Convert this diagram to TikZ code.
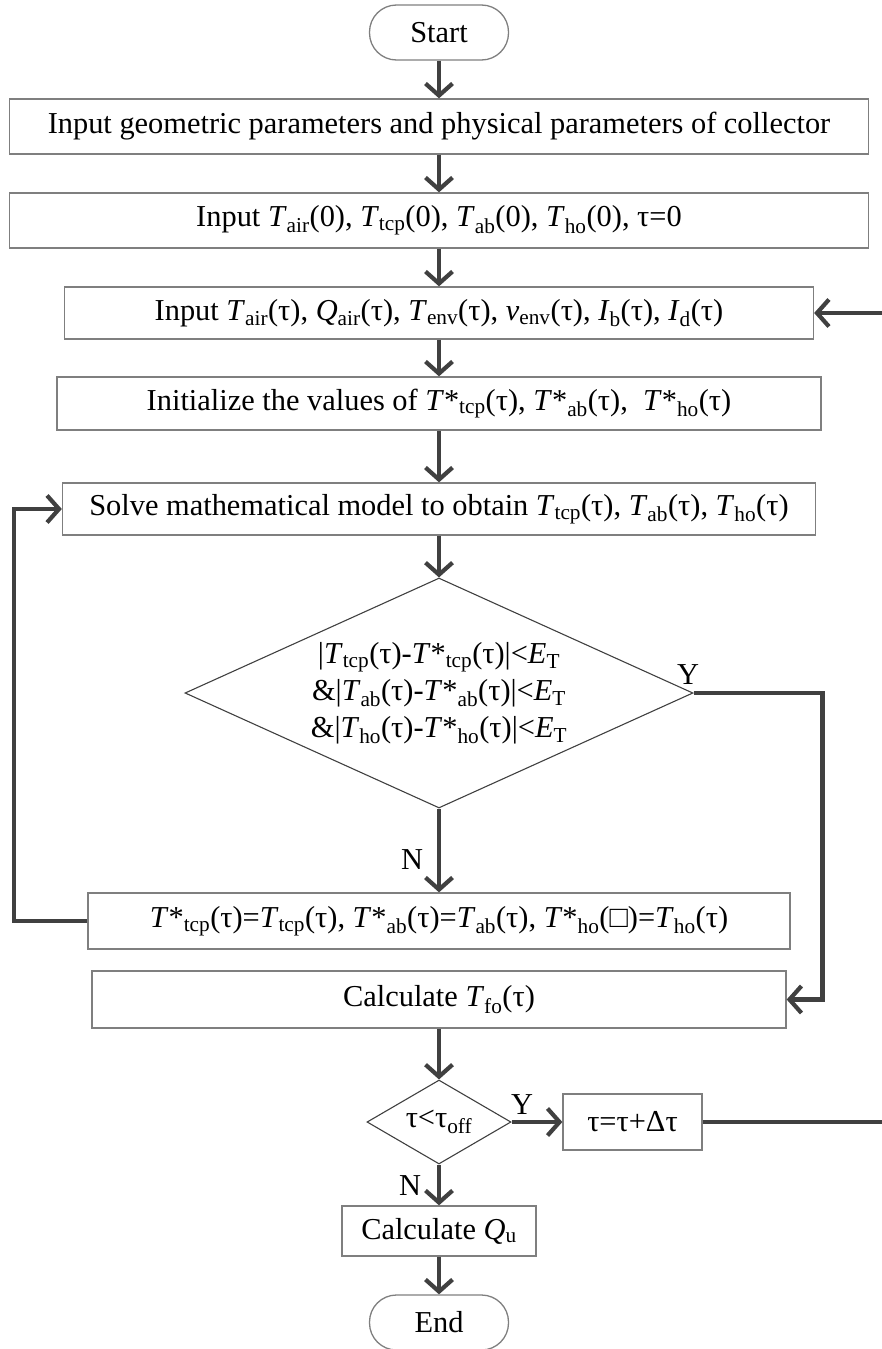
\documentclass[tikz,border=0pt]{standalone}
\usepackage{fontspec}
\setmainfont{Liberation Serif}
\usetikzlibrary{arrows.meta,shapes.geometric}
\definecolor{frame}{HTML}{7F7F7F}
\definecolor{ink}{HTML}{404040}
\newcommand{\Tsub}[1]{\textit{T}\textsubscript{#1}}
\newcommand{\Tstar}[1]{\textit{T}*\textsubscript{#1}}
\newcommand{\ET}{\textit{E}\textsubscript{T}}

\begin{document}
\begin{tikzpicture}[x=1pt, y=-1pt,
    every node/.style={font=\fontsize{30.4}{37}\selectfont},
    stepbox/.style={draw=frame, line width=1.3pt, inner sep=0pt, minimum height=55pt},
    term/.style={stepbox, rounded corners=27pt, minimum width=139pt},
    cond/.style={draw=ink, line width=1.1pt, shape=diamond, aspect=2.2, inner sep=0pt},
    flow/.style={draw=ink, line width=4.2pt, -{Straight Barb[length=12pt,width=27pt]}},
    link/.style={draw=ink, line width=4.2pt},
  ]
  \useasboundingbox (0,0) rectangle (882,1349);

  \node[term] (start) at (439, 32.5) {Start};
  \node[stepbox, minimum width=859pt] (geo) at (439, 126.5)
    {Input geometric parameters and physical parameters of collector};
  \node[stepbox, minimum width=859pt] (init0) at (439, 220.5)
    {Input \Tsub{air}(0), \Tsub{tcp}(0), \Tsub{ab}(0), \Tsub{ho}(0), τ=0};
  \node[stepbox, minimum width=749pt, minimum height=52pt] (weather) at (439, 313)
    {Input \Tsub{air}(τ), \textit{Q}\textsubscript{air}(τ), \Tsub{env}(τ), \textit{v}\textsubscript{env}(τ), \textit{I}\textsubscript{b}(τ), \textit{I}\textsubscript{d}(τ)};
  \node[stepbox, minimum width=764pt, minimum height=53pt] (guess) at (439, 403.5)
    {Initialize the values of \Tstar{tcp}(τ), \Tstar{ab}(τ), \ \Tstar{ho}(τ)};
  \node[stepbox, minimum width=753pt, minimum height=52pt] (solve) at (439, 509)
    {Solve mathematical model to obtain \Tsub{tcp}(τ), \Tsub{ab}(τ), \Tsub{ho}(τ)};
  \node[cond, minimum width=508pt, minimum height=230pt, inner sep=-30pt, align=center] (check) at (439, 693)
    {|\Tsub{tcp}(τ)-\Tstar{tcp}(τ)|<\ET\\
     \&|\Tsub{ab}(τ)-\Tstar{ab}(τ)|<\ET\\
     \&|\Tsub{ho}(τ)-\Tstar{ho}(τ)|<\ET};
  \node[stepbox, minimum width=702pt, minimum height=56pt] (update) at (439, 921)
    {\Tstar{tcp}(τ)=\Tsub{tcp}(τ), \Tstar{ab}(τ)=\Tsub{ab}(τ), \Tstar{ho}(□)=\Tsub{ho}(τ)};
  \node[stepbox, minimum width=694pt, minimum height=57pt] (outlet) at (439, 999.5)
    {Calculate \Tsub{fo}(τ)};
  \node[cond, minimum width=144pt, minimum height=84pt] (timecheck) at (439, 1122)
    {τ<τ\textsubscript{off}};
  \node[stepbox, minimum width=139pt, minimum height=56pt] (step) at (632.5, 1122) {τ=τ+Δτ};
  \node[stepbox, minimum width=194pt, minimum height=50pt] (heat) at (439, 1231)
    {Calculate \textit{Q}\textsubscript{u}};
  \node[term] (end) at (439, 1322.5) {End};

  \node (yes1) at (688, 675) {Y};
  \node (no1) at (412, 860) {N};
  \node (yes2) at (522, 1105) {Y};
  \node (no2) at (410, 1186) {N};

  \coordinate (backin) at (882, 313);
  \coordinate (backout) at (882, 1122);

  \draw[flow] (start) -- (geo);
  \draw[flow] (geo) -- (init0);
  \draw[flow] (init0) -- (weather);
  \draw[flow] (weather) -- (guess);
  \draw[flow] (guess) -- (solve);
  \draw[flow] (solve) -- (check);
  \draw[flow] (check) -- (update);
  \draw[flow] (update.west) -- ++(-73,0) |- (solve.west);
  \draw[flow] (check.east) -- ++(129,0) |- (outlet.east);
  \draw[flow] (outlet) -- (timecheck);
  \draw[flow] (timecheck) -- (step);
  \draw[flow] (timecheck) -- (heat);
  \draw[flow] (heat) -- (end);
  \draw[link] (step.east) -- (backout);
  \draw[flow] (backin) -- (weather.east);
\end{tikzpicture}
\end{document}
